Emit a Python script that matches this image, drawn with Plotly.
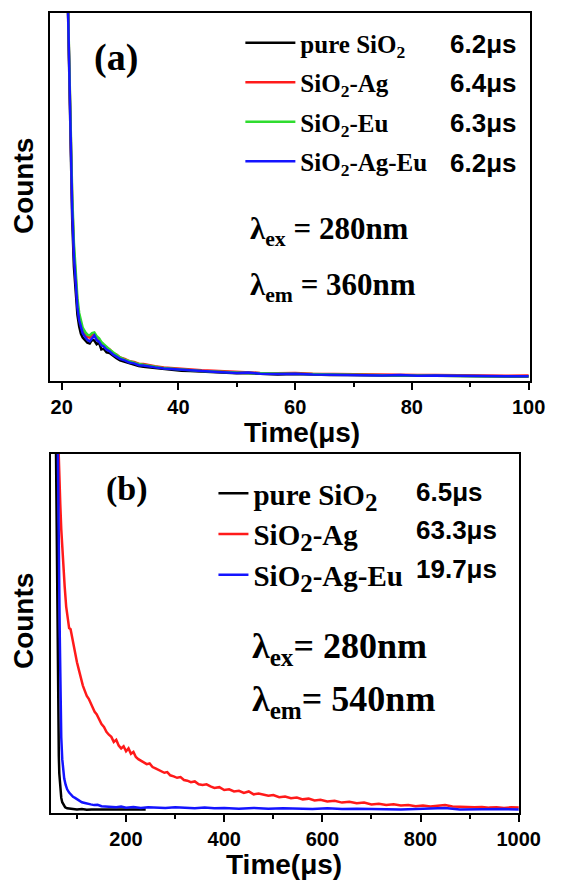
import plotly.graph_objects as go

W, H = 571, 884

# ---------------- panel (a) data ----------------
t_a = [20.9, 21.2, 21.5, 21.8, 22.1, 22.4, 22.7, 23.0, 23.3, 23.6,
       24.0, 24.4, 24.8, 25.2, 25.6, 26.0, 26.4, 26.8, 27.2, 27.7,
       28.2, 28.8, 29.4, 30.0, 30.8, 31.6, 32.4, 33.2, 34.0, 35.0,
       36.0, 37.5, 39.0, 40.5, 42, 44, 46, 48, 50, 52,
       54, 57, 60, 63, 66, 69, 72, 75, 78, 81,
       84, 87, 90, 93, 96, 100]
a_pure = [1150, 880, 620, 440, 310, 230, 180, 148, 128, 118,
          110, 104, 102, 112, 110, 100, 104, 86, 88, 78,
          76, 68, 62, 56, 52, 47, 44, 41, 39, 37,
          35, 32, 30, 28, 27, 25, 24, 22, 21, 21,
          19, 18, 19, 17, 16, 16, 15, 15, 15, 14,
          14, 14, 13, 13, 13, 12]
a_ag = [1150, 910, 670, 490, 355, 268, 210, 175, 152, 138,
        128, 120, 118, 126, 128, 116, 114, 102, 98, 90,
        86, 76, 72, 64, 60, 54, 52, 47, 46, 42,
        40, 37, 35, 33, 31, 29, 28, 26, 25, 24,
        22, 21, 22, 20, 19, 18, 18, 17, 17, 16,
        16, 15, 15, 15, 14, 15]
a_eu = [1150, 930, 690, 510, 375, 285, 225, 185, 160, 145,
        134, 126, 124, 130, 132, 122, 116, 106, 100, 92,
        86, 78, 70, 64, 58, 53, 50, 46, 44, 41,
        38, 35, 33, 31, 29, 27, 26, 24, 23, 22,
        21, 20, 20, 19, 18, 17, 16, 16, 15, 15,
        14, 14, 14, 13, 13, 13]
a_ageu = [1150, 900, 650, 470, 340, 255, 200, 165, 143, 130,
          120, 112, 108, 116, 124, 111, 107, 97, 94, 85,
          81, 72, 67, 60, 56, 50, 48, 43, 42, 39,
          37, 34, 32, 30, 28, 27, 25, 23, 22, 23,
          20, 19, 20, 18, 17, 17, 16, 15, 16, 14,
          15, 14, 13, 14, 13, 13]
names_a = ["pure SiO<sub>2</sub>", "SiO<sub>2</sub>-Ag", "SiO<sub>2</sub>-Eu", "SiO<sub>2</sub>-Ag-Eu"]
life_a = ["6.2μs", "6.4μs", "6.3μs", "6.2μs"]
colors_a = ["#000000", "#ff1a1a", "#2fdc2f", "#1414ff"]

# ---------------- panel (b) data ----------------
t_b_pure = [55, 57, 58, 59, 60, 61, 62, 63, 64, 66,
            68, 70, 73, 76, 80, 85, 90, 100, 110, 120,
            130, 140, 150, 160, 170, 180, 190, 200, 210, 220,
            230, 240]
b_pure = [1150, 1050, 900, 720, 520, 360, 240, 160, 110, 65,
          42, 30, 21, 16, 13, 12, 11, 10, 11, 9,
          10, 10, 9, 10, 11, 9, 10, 9, 10, 10,
          9, 10]
t_b_ag = [60, 62, 64, 66, 68, 70, 72, 75, 78, 81, 84, 87, 90, 93, 96, 100,
          104, 108, 112, 116, 120, 124, 128, 132, 136, 140, 145, 150, 155, 160,
          165, 170, 175, 180, 185, 190, 195, 200, 205, 210, 215, 220, 225, 230,
          236, 242, 248, 254, 260, 266, 272, 278, 284, 290, 297, 304, 311, 318,
          325, 332, 340, 348, 356, 364, 372, 380, 390, 400, 410, 420, 430, 440,
          450, 460, 470, 480, 490, 500, 512, 524, 536, 548, 560, 572, 584, 596,
          610, 625, 640, 655, 670, 685, 700, 715, 730, 745, 760, 775, 790, 805,
          820, 835, 850, 865, 880, 895, 910, 925, 940, 955, 970, 985, 1000]
b_ag = [1120, 1010, 930, 860, 790, 735, 690, 630, 575, 540, 515, 512, 490, 462, 440, 420,
        398, 372, 355, 340, 326, 318, 305, 296, 282, 275, 262, 248, 240, 226,
        218, 212, 198, 204, 188, 180, 186, 172, 180, 165, 170, 156, 150, 146,
        140, 136, 138, 128, 124, 120, 118, 112, 114, 105, 102, 98, 100, 92,
        90, 86, 88, 80, 78, 80, 74, 70, 72, 64, 66, 60, 62, 56,
        60, 52, 54, 50, 48, 50, 44, 46, 41, 43, 38, 40, 35, 37,
        32, 34, 29, 31, 27, 29, 24, 26, 22, 24, 21, 22, 19, 21,
        18, 20, 22, 18, 17, 18, 16, 17, 15, 16, 14, 16, 15]
t_b_ageu = [60, 61, 62, 63, 64, 65, 66, 67, 68, 70,
            72, 74, 77, 80, 84, 88, 92, 96, 100, 105,
            110, 116, 122, 128, 135, 142, 150, 160, 170, 180,
            190, 200, 215, 230, 245, 260, 280, 300, 320, 340,
            360, 380, 400, 430, 460, 490, 520, 550, 580, 610,
            640, 670, 700, 730, 760, 790, 820, 850, 880, 910,
            940, 970, 1000]
b_ageu = [1150, 1050, 900, 760, 620, 490, 370, 270, 210, 150,
          118, 96, 78, 66, 57, 50, 45, 42, 38, 34,
          30, 28, 25, 24, 22, 23, 19, 18, 19, 16,
          18, 15, 17, 14, 16, 15, 14, 16, 14, 13,
          15, 13, 14, 12, 14, 12, 13, 12, 11, 13,
          11, 12, 11, 12, 10, 11, 12, 14, 10, 11,
          10, 11, 10]
big2 = "<sub><span style='font-size:25px'>2</span></sub>"
names_b = ["pure SiO" + big2, "SiO" + big2 + "-Ag", "SiO" + big2 + "-Ag-Eu"]
life_b = ["6.5μs", "63.3μs", "19.7μs"]
colors_b = ["#000000", "#ff1a1a", "#1414ff"]

SANS = "Liberation Sans, Arial, sans-serif"
SERIF = "Liberation Serif, Times New Roman, serif"


def px_x(p):
    return p / W


def px_y(p):
    return 1 - p / H


fig = go.Figure()
for t_vals, y_vals, nm, col in zip([t_a] * 4, [a_pure, a_ag, a_eu, a_ageu], names_a, colors_a):
    fig.add_trace(go.Scatter(x=t_vals, y=y_vals, mode="lines", name=nm,
                             line=dict(color=col, width=2.5),
                             xaxis="x", yaxis="y", legend="legend", legendgroup=nm))

for t_vals, y_vals, nm, col in zip([t_b_pure, t_b_ag, t_b_ageu], [b_pure, b_ag, b_ageu], names_b, colors_b):
    fig.add_trace(go.Scatter(x=t_vals, y=y_vals, mode="lines", name=nm,
                             line=dict(color=col, width=2.5),
                             xaxis="x2", yaxis="y2", legend="legend2"))

axis_common = dict(showline=True, linewidth=2, linecolor="black", mirror=True,
                   showgrid=False, zeroline=False)
xcommon = dict(axis_common, ticks="outside", ticklen=7, tickwidth=2, tickcolor="black",
               tickfont=dict(family=SANS, size=20, color="black", weight="bold"))
ycommon = dict(axis_common, ticks="", showticklabels=False, range=[0, 1000])

fig.update_layout(
    width=W, height=H,
    margin=dict(l=0, r=0, t=0, b=0),
    paper_bgcolor="white", plot_bgcolor="white",
    xaxis=dict(xcommon, domain=[px_x(52), px_x(551)], range=[18.0, 100.2], anchor="y",
               tick0=20, dtick=20,
               minor=dict(dtick=10, tick0=0, ticks="outside", ticklen=4, tickwidth=2, tickcolor="black")),
    yaxis=dict(ycommon, domain=[px_y(381), px_y(13)], anchor="x"),
    xaxis2=dict(xcommon, domain=[px_x(53), px_x(540)], range=[47, 1001], anchor="y2",
                tick0=0, dtick=200,
                minor=dict(dtick=100, tick0=0, ticks="outside", ticklen=4, tickwidth=2, tickcolor="black")),
    yaxis2=dict(ycommon, domain=[px_y(813), px_y(454)], anchor="x2"),
    legend=dict(x=px_x(250), y=px_y(20), xanchor="left", yanchor="top",
                bgcolor="rgba(0,0,0,0)", borderwidth=0, itemwidth=50,
                traceorder="grouped", tracegroupgap=4,
                font=dict(family=SERIF, size=25, color="black", weight="bold")),
    legend2=dict(x=px_x(222), y=px_y(468), xanchor="left", yanchor="top",
                 bgcolor="rgba(0,0,0,0)", borderwidth=0,
                 font=dict(family=SERIF, size=29, color="black", weight="bold")),
    showlegend=True,
)

ann = []
# lifetimes
for lab, yy in zip(life_a, [44, 83, 123, 163]):
    ann.append(dict(text=lab, x=px_x(466), y=px_y(yy), xanchor="left", yanchor="middle",
                    font=dict(family=SANS, size=26, color="black", weight="bold")))
for lab, yy in zip(life_b, [492, 530, 569]):
    ann.append(dict(text=lab, x=px_x(431), y=px_y(yy), xanchor="left", yanchor="middle",
                    font=dict(family=SANS, size=26, color="black", weight="bold")))
# panel labels
ann.append(dict(text="(a)", x=px_x(121), y=px_y(58), xanchor="center", yanchor="middle",
                font=dict(family=SERIF, size=38, color="black", weight="bold")))
ann.append(dict(text="(b)", x=px_x(132), y=px_y(489), xanchor="center", yanchor="middle",
                font=dict(family=SERIF, size=34, color="black", weight="bold")))
# excitation / emission
ann.append(dict(text="λ<sub>ex</sub> = 280nm", x=px_x(258), y=px_y(231), xanchor="left", yanchor="middle",
                font=dict(family=SERIF, size=31, color="black", weight="bold")))
ann.append(dict(text="λ<sub>em</sub> = 360nm", x=px_x(258), y=px_y(287), xanchor="left", yanchor="middle",
                font=dict(family=SERIF, size=31, color="black", weight="bold")))
ann.append(dict(text="λ<sub>ex</sub>= 280nm", x=px_x(260), y=px_y(648), xanchor="left", yanchor="middle",
                font=dict(family=SERIF, size=36, color="black", weight="bold")))
ann.append(dict(text="λ<sub>em</sub>= 540nm", x=px_x(260), y=px_y(701), xanchor="left", yanchor="middle",
                font=dict(family=SERIF, size=36, color="black", weight="bold")))
# axis titles
for yy in [186, 621]:
    ann.append(dict(text="Counts", x=px_x(24), y=px_y(yy), xanchor="center", yanchor="middle",
                    textangle=-90, font=dict(family=SANS, size=28, color="black", weight="bold")))
ann.append(dict(text="Time(μs)", x=px_x(314), y=px_y(432), xanchor="center", yanchor="middle",
                font=dict(family=SANS, size=28, color="black", weight="bold")))
ann.append(dict(text="Time(μs)", x=px_x(295), y=px_y(864), xanchor="center", yanchor="middle",
                font=dict(family=SANS, size=28, color="black", weight="bold")))
for a in ann:
    a.update(xref="paper", yref="paper", showarrow=False)
fig.update_layout(annotations=ann)

fig.write_html("out.html")
